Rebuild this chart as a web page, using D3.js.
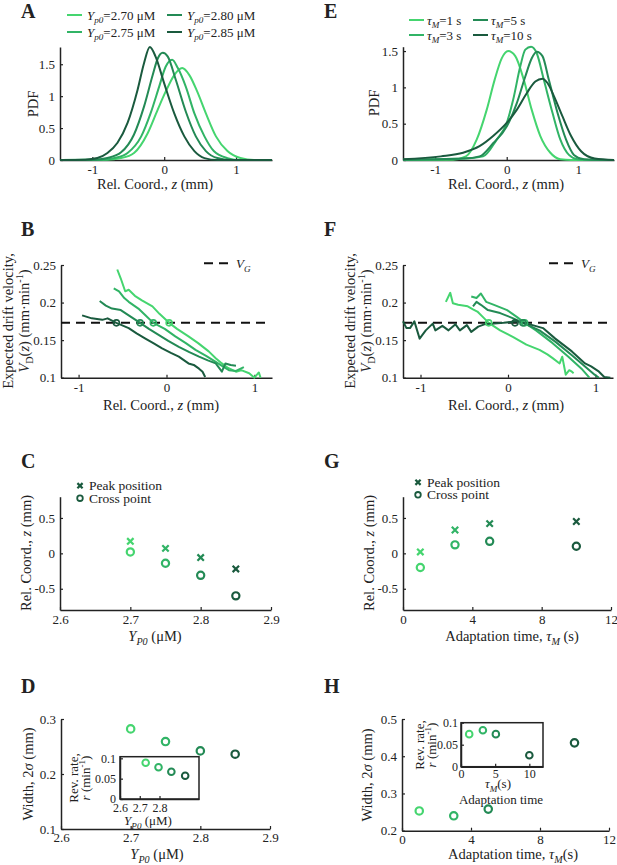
<!DOCTYPE html>
<html>
<head>
<meta charset="utf-8">
<script src="https://cdn.jsdelivr.net/npm/d3@7"></script>
<style>
body { margin: 0; background: #fff; }
#fig, #fig text { font-family: "Liberation Serif", "Times New Roman", Times, "DejaVu Serif", "Noto Serif", serif; }
#fig text { fill: #222; }
</style>
</head>
<body>
<svg id="fig" width="617" height="865" font-family="Liberation Serif, DejaVu Serif, serif"></svg>
<script>
// ---- data ----
const yp0 = [2.70, 2.75, 2.80, 2.85];
const yp0Labels = ["2.70", "2.75", "2.80", "2.85"];
const tauM = [1, 3, 5, 10];

// A: PDF vs z for each Yp0
const pdf270 = [[-1.45,0],[-0.8,0.005],[-0.6,0.03],[-0.42,0.11],[-0.23,0.42],[-0.09,0.79],[0.02,1.07],[0.14,1.33],[0.25,1.44],[0.35,1.33],[0.46,1.07],[0.58,0.73],[0.72,0.37],[0.88,0.14],[1.06,0.03],[1.25,0],[1.5,0]];
const pdf275 = [[-1.45,0],[-0.85,0.005],[-0.69,0.03],[-0.51,0.11],[-0.32,0.37],[-0.19,0.73],[-0.07,1.15],[0.02,1.46],[0.11,1.57],[0.19,1.44],[0.3,1.15],[0.42,0.73],[0.56,0.37],[0.69,0.14],[0.88,0.03],[1.06,0],[1.5,0]];
const pdf280 = [[-1.45,0],[-0.95,0.005],[-0.79,0.03],[-0.6,0.12],[-0.42,0.40],[-0.28,0.84],[-0.16,1.33],[-0.09,1.59],[-0.02,1.68],[0.05,1.62],[0.16,1.26],[0.3,0.76],[0.44,0.37],[0.58,0.14],[0.74,0.03],[0.93,0],[1.5,0]];
const pdf285 = [[-1.45,0],[-1.1,0.005],[-0.93,0.03],[-0.79,0.11],[-0.65,0.27],[-0.51,0.58],[-0.37,1.10],[-0.28,1.52],[-0.2,1.77],[-0.12,1.62],[0,1.20],[0.14,0.73],[0.28,0.37],[0.42,0.14],[0.56,0.03],[0.74,0],[1.5,0]];

// E: PDF vs z for each tauM
const pdfT1 = [[-1.45,0],[-0.75,0.005],[-0.57,0.05],[-0.42,0.28],[-0.28,0.69],[-0.17,1.1],[-0.07,1.40],[0.02,1.50],[0.12,1.43],[0.24,1.10],[0.35,0.69],[0.47,0.33],[0.61,0.10],[0.75,0.01],[0.9,0],[1.5,0]];
const pdfT3 = [[-1.45,0.005],[-0.6,0.02],[-0.33,0.05],[-0.14,0.28],[0,0.51],[0.09,0.83],[0.19,1.29],[0.26,1.52],[0.34,1.56],[0.42,1.47],[0.52,1.10],[0.64,0.65],[0.75,0.28],[0.87,0.07],[0.99,0.01],[1.2,0],[1.5,0]];
const pdfT5 = [[-1.45,0.005],[-0.6,0.02],[-0.38,0.05],[-0.19,0.23],[0,0.46],[0.14,0.78],[0.26,1.15],[0.35,1.40],[0.42,1.49],[0.5,1.43],[0.59,1.10],[0.71,0.65],[0.83,0.28],[0.94,0.07],[1.08,0.01],[1.3,0],[1.5,0]];
const pdfT10 = [[-1.45,0.01],[-0.92,0.05],[-0.61,0.10],[-0.38,0.19],[-0.19,0.33],[0,0.51],[0.14,0.69],[0.28,0.92],[0.4,1.08],[0.5,1.12],[0.57,1.06],[0.66,0.88],[0.78,0.60],[0.9,0.33],[1.04,0.12],[1.23,0.02],[1.5,0]];

// B: drift velocity vs z for each Yp0
const vd270 = [[-0.56,0.244],[-0.52,0.232],[-0.47,0.215],[-0.43,0.217],[-0.36,0.209],[-0.28,0.203],[-0.16,0.195],[-0.08,0.185],[0.03,0.173],[0.12,0.165],[0.25,0.155],[0.36,0.146],[0.48,0.135],[0.56,0.126],[0.63,0.119],[0.7,0.113],[0.79,0.108],[0.85,0.11],[0.94,0.106],[1.0,0.1],[1.05,0.107],[1.07,0.1]];
const vd275 = [[-0.6,0.219],[-0.54,0.215],[-0.48,0.206],[-0.43,0.201],[-0.32,0.192],[-0.24,0.183],[-0.15,0.173],[-0.02,0.165],[0.1,0.155],[0.22,0.146],[0.33,0.137],[0.45,0.129],[0.56,0.121],[0.64,0.115],[0.71,0.11],[0.79,0.109],[0.88,0.114]];
const vd280 = [[-0.76,0.202],[-0.69,0.196],[-0.62,0.192],[-0.52,0.19],[-0.43,0.183],[-0.3,0.173],[-0.2,0.165],[-0.09,0.157],[0.02,0.149],[0.14,0.141],[0.26,0.134],[0.37,0.128],[0.47,0.123],[0.56,0.119],[0.63,0.108],[0.67,0.119],[0.73,0.117],[0.79,0.116]];
const vd285 = [[-0.96,0.183],[-0.85,0.179],[-0.73,0.177],[-0.67,0.179],[-0.57,0.173],[-0.43,0.166],[-0.34,0.159],[-0.24,0.152],[-0.15,0.146],[-0.05,0.139],[0.05,0.133],[0.14,0.128],[0.25,0.119],[0.31,0.117],[0.37,0.112],[0.41,0.108],[0.44,0.101]];
const crossB = [0.03, -0.15, -0.30, -0.57];

// F: drift velocity vs z for each tauM
const vdT1 = [[-0.71,0.201],[-0.66,0.213],[-0.63,0.199],[-0.57,0.197],[-0.46,0.195],[-0.4,0.191],[-0.35,0.188],[-0.28,0.18],[-0.22,0.173],[-0.09,0.163],[0.06,0.154],[0.21,0.144],[0.36,0.137],[0.45,0.131],[0.51,0.126],[0.59,0.119],[0.62,0.128],[0.66,0.104],[0.7,0.11],[0.73,0.108],[0.75,0.106]];
const vdT3 = [[-0.42,0.208],[-0.36,0.206],[-0.31,0.212],[-0.25,0.201],[-0.16,0.197],[-0.01,0.19],[0.1,0.181],[0.19,0.173],[0.32,0.163],[0.51,0.146],[0.69,0.128],[0.84,0.112],[0.93,0.1]];
const vdT5 = [[-0.4,0.195],[-0.36,0.201],[-0.31,0.197],[-0.23,0.19],[-0.09,0.186],[0.06,0.179],[0.17,0.173],[0.36,0.163],[0.54,0.148],[0.73,0.13],[0.88,0.115],[0.99,0.104],[1.04,0.1]];
const vdT10 = [[-1.2,0.175],[-1.16,0.166],[-1.12,0.166],[-1.07,0.175],[-1.01,0.152],[-0.94,0.163],[-0.86,0.172],[-0.83,0.163],[-0.75,0.169],[-0.68,0.163],[-0.6,0.171],[-0.55,0.163],[-0.47,0.17],[-0.42,0.161],[-0.34,0.168],[-0.27,0.171],[-0.16,0.172],[-0.05,0.173],[0.1,0.175],[0.25,0.171],[0.4,0.166],[0.54,0.152],[0.73,0.135],[0.88,0.119],[0.95,0.115],[1.04,0.108],[1.1,0.101],[1.17,0.1]];
const crossF = [-0.22, 0.19, 0.17, 0.08];
const vG = 0.173;

// C, G: peak position and cross point
const peakC = [0.17, 0.07, -0.06, -0.22];
const crossC = [0.02, -0.14, -0.31, -0.60];
const peakG = [0.02, 0.33, 0.42, 0.45];
const crossG = [-0.20, 0.12, 0.17, 0.10];

// D, H: width and reversal rate (insets)
const widthD = [0.282, 0.259, 0.242, 0.236];
const revDx = [2.73, 2.795, 2.86, 2.93];
const revD = [0.089, 0.078, 0.067, 0.057];
const widthH = [0.253, 0.240, 0.258, 0.436];
const revHx = [1.2, 3.2, 5.1, 10];
const revH = [0.074, 0.083, 0.074, 0.026];

// ---- drawing ----
const svg = d3.select("#fig");
const greens = ["#45d56f", "#31b466", "#238a55", "#1a5a3e"];
const ink = "#222";
const serif = "Liberation Serif, Times New Roman, DejaVu Serif, serif";
const fmt = d => String(d);

function rich(t, parts, fs) {
  let shift = 0;
  parts.forEach(p => {
    const [s, k] = p;
    const sp = t.append("tspan").text(s);
    let want = 0;
    if (k === "sub" || k === "isub") want = fs * 0.3;
    if (k === "sup") want = -fs * 0.4;
    if (want !== shift) sp.attr("dy", want - shift);
    shift = want;
    if (k === "sub" || k === "isub" || k === "sup") sp.attr("font-size", fs * 0.7);
    if (k === "i" || k === "isub") sp.attr("font-style", "italic");
  });
  return t;
}

function label(x, y, parts, fs, opts = {}) {
  const t = svg.append("text").attr("font-size", fs).attr("font-family", serif)
    .attr("text-anchor", opts.anchor || "middle");
  if (opts.rot) t.attr("transform", `translate(${x},${y}) rotate(-90)`);
  else t.attr("x", x).attr("y", y);
  if (opts.bold) t.attr("font-weight", "bold");
  return rich(t, parts, fs);
}

function panel(o) {
  const x = d3.scaleLinear().domain(o.xd).range([o.l, o.r]);
  const y = d3.scaleLinear().domain(o.yd).range([o.b, o.t]);
  const g = svg.append("g");
  const fs = o.fs || 13;
  if (o.box) {
    g.append("rect").attr("x", o.l).attr("y", o.t)
      .attr("width", o.r - o.l).attr("height", o.b - o.t)
      .attr("fill", "#fff").attr("stroke", ink).attr("stroke-width", 1.5);
  }
  const ax = g.append("g").attr("transform", `translate(0,${o.b})`)
    .call(d3.axisBottom(x).tickValues(o.xt).tickFormat(fmt)
      .tickSizeInner(-3).tickSizeOuter(0).tickPadding(o.xp ?? 5));
  const ay = g.append("g").attr("transform", `translate(${o.l},0)`)
    .call(d3.axisLeft(y).tickValues(o.yt).tickFormat(fmt)
      .tickSizeInner(-3).tickSizeOuter(0).tickPadding(o.yp ?? 5));
  [ax, ay].forEach(a => {
    a.attr("font-family", serif).attr("font-size", fs);
    a.select(".domain").attr("stroke", ink).attr("stroke-width", 1.5);
    a.selectAll(".tick line").attr("stroke", ink).attr("stroke-width", 1.2);
    a.selectAll(".tick text").attr("fill", ink).attr("font-size", fs).attr("font-family", serif);
  });
  return { x, y, g };
}

function curve(p, pts, color, smooth) {
  const line = d3.line().x(d => p.x(d[0])).y(d => p.y(d[1]));
  if (smooth) line.curve(d3.curveMonotoneX);
  p.g.append("path").datum(pts).attr("d", line)
    .attr("fill", "none").attr("stroke", color).attr("stroke-width", 2)
    .attr("stroke-linejoin", "round");
}

function ring(p, cx, cy, color, r, w) {
  p.g.append("circle").attr("cx", cx).attr("cy", cy).attr("r", r)
    .attr("fill", "none").attr("stroke", color).attr("stroke-width", w);
}

function cross(g, cx, cy, color, s) {
  g.append("path")
    .attr("d", `M${cx - s},${cy - s}L${cx + s},${cy + s}M${cx - s},${cy + s}L${cx + s},${cy - s}`)
    .attr("stroke", color).attr("stroke-width", 2.2).attr("fill", "none");
}

const relCoord = [["Rel. Coord., "], ["z", "i"], [" (mm)"]];
const ypLabel = [["Y", "i"], ["P0", "isub"], [" (\u03bcM)"]];

// panel letters
[["A", 21, 18], ["B", 21, 236], ["C", 21, 468], ["D", 21, 693],
 ["E", 324, 18], ["F", 324, 236], ["G", 324, 468], ["H", 324, 693]].forEach(d =>
  label(d[1], d[2], [[d[0]]], 20, { anchor: "start", bold: true }));

// ---- A ----
const pA = panel({ l: 60, r: 272, t: 47, b: 160, xd: [-1.45, 1.5], yd: [0, 1.77],
  xt: [-1, 0, 1], yt: [0, 0.5, 1, 1.5] });
[pdf270, pdf275, pdf280, pdf285].forEach((c, i) => curve(pA, c, greens[i], true));
label(38, 104, [["PDF"]], 14.5, { rot: true });
label(155, 189, relCoord, 14.5);
yp0Labels.forEach((s, i) => {
  const lx = i < 2 ? 67 : 167, ly = i % 2 === 0 ? 15 : 32;
  svg.append("line").attr("x1", lx).attr("x2", lx + 15).attr("y1", ly).attr("y2", ly)
    .attr("stroke", greens[i]).attr("stroke-width", 2);
  label(lx + 20, ly + 4.5, [["Y", "i"], ["p0", "isub"], ["=" + s + " \u03bcM"]], 13, { anchor: "start" });
});

// ---- E ----
const pE = panel({ l: 403, r: 614, t: 46.7, b: 160, xd: [-1.45, 1.5], yd: [0, 1.56],
  xt: [-1, 0, 1], yt: [0, 0.5, 1, 1.5] });
[pdfT1, pdfT3, pdfT5, pdfT10].forEach((c, i) => curve(pE, c, greens[i], true));
label(379, 103, [["PDF"]], 14.5, { rot: true });
label(506, 189, relCoord, 14.5);
tauM.forEach((t, i) => {
  const lx = i < 2 ? 409 : 473, ly = i % 2 === 0 ? 20 : 35;
  svg.append("line").attr("x1", lx).attr("x2", lx + 15).attr("y1", ly).attr("y2", ly)
    .attr("stroke", greens[i]).attr("stroke-width", 2);
  label(lx + 18, ly + 4.5, [["\u03c4", "i"], ["M", "isub"], ["=" + t + " s"]], 13, { anchor: "start" });
});

// ---- B / F ----
function driftPanel(l, r, curves, crosses, legX, dashEnd) {
  const p = panel({ l: l, r: r, t: 265, b: 377.7, xd: [-1.2, 1.2], yd: [0.1, 0.25],
    xt: [-1, 0, 1], yt: [0.1, 0.15, 0.2, 0.25] });
  p.g.append("line").attr("x1", p.x(-1.2)).attr("x2", p.x(dashEnd))
    .attr("y1", p.y(vG)).attr("y2", p.y(vG))
    .attr("stroke", "#111").attr("stroke-width", 2).attr("stroke-dasharray", "9,6");
  curves.forEach((c, i) => curve(p, c, greens[i], false));
  crosses.forEach((c, i) => ring(p, p.x(c), p.y(vG), greens[i], 3, 1.6));
  svg.append("line").attr("x1", legX).attr("x2", legX + 26).attr("y1", 263.3).attr("y2", 263.3)
    .attr("stroke", "#111").attr("stroke-width", 2).attr("stroke-dasharray", "9,6");
  label(legX + 32, 268, [["V", "i"], ["G", "isub"]], 13, { anchor: "start" });
  label(l - 48, 321, [["Expected drift velocity,"]], 14.5, { rot: true });
  label(l - 32, 321, [["V", "i"], ["D", "sub"], ["("], ["z", "i"], [") (mm\u00b7min"], ["-1", "sup"], [")"]], 14.5, { rot: true });
  return p;
}
driftPanel(61, 272, [vd270, vd275, vd280, vd285], crossB, 204, 1.14);
label(161, 410, relCoord, 14.5);
driftPanel(403, 613, [vdT1, vdT3, vdT5, vdT10], crossF, 549, 1.2);
label(506, 410, relCoord, 14.5);

// ---- C / G ----
function peakPanel(l, r, xd, xt, xs, peaks, crosses, legX, legY) {
  const p = panel({ l: l, r: r, t: 496.7, b: 610, xd: xd, yd: [-0.8, 0.8],
    xt: xt, yt: [-0.5, 0, 0.5] });
  xs.forEach((v, i) => {
    cross(p.g, p.x(v), p.y(peaks[i]), greens[i], 3.2);
    ring(p, p.x(v), p.y(crosses[i]), greens[i], 3.6, 2.2);
  });
  cross(svg, legX, legY, greens[3], 2.6);
  label(legX + 9, legY + 4.5, [["Peak position"]], 13.5, { anchor: "start" });
  svg.append("circle").attr("cx", legX).attr("cy", legY + 12.5).attr("r", 2.8)
    .attr("fill", "none").attr("stroke", greens[3]).attr("stroke-width", 1.8);
  label(legX + 9, legY + 17, [["Cross point"]], 13.5, { anchor: "start" });
  label(l - 29, 553, relCoord, 14.5, { rot: true });
  return p;
}
peakPanel(60, 271, [2.6, 2.9], [2.6, 2.7, 2.8, 2.9], yp0, peakC, crossC, 80, 485.7);
label(155, 641, ypLabel, 14.5);
peakPanel(403, 611, [0, 12], [0, 4, 8, 12], tauM, peakG, crossG, 418, 482.3);
label(512, 641, [["Adaptation time, "], ["\u03c4", "i"], ["M", "isub"], [" (s)"]], 14.5);

// ---- D ----
const pD = panel({ l: 61, r: 270, t: 719, b: 829, xd: [2.6, 2.9], yd: [0.1, 0.3],
  xt: [2.6, 2.7, 2.8, 2.9], yt: [0.1, 0.2, 0.3], xp: 4 });
yp0.forEach((v, i) => ring(pD, pD.x(v), pD.y(widthD[i]), greens[i], 3.7, 2.2));
label(33, 774, [["Width, 2"], ["\u03c3", "i"], [" (mm)"]], 14.5, { rot: true });
label(157, 859, ypLabel, 14.5);
const iD = panel({ l: 120, r: 199, t: 756.7, b: 799, xd: [2.6, 3.0], yd: [0, 0.104],
  xt: [2.6, 2.7, 2.8], yt: [0, 0.05, 0.1], box: true, fs: 12, xp: 4, yp: 4 });
revDx.forEach((v, i) => ring(iD, iD.x(v), iD.y(revD[i]), greens[i], 3.3, 2));
label(78, 778, [["Rev. rate,"]], 13, { rot: true });
label(90, 778, [["r", "i"], [" (min"], ["-1", "sup"], [")"]], 13, { rot: true });
label(148, 825, ypLabel, 13);

// ---- H ----
const pH = panel({ l: 402, r: 609, t: 719, b: 830.7, xd: [0, 12], yd: [0.2, 0.5],
  xt: [0, 4, 8, 12], yt: [0.2, 0.3, 0.4, 0.5], xp: 4 });
tauM.forEach((v, i) => ring(pH, pH.x(v), pH.y(widthH[i]), greens[i], 3.7, 2.2));
label(372, 775, [["Width, 2"], ["\u03c3", "i"], [" (mm)"]], 14.5, { rot: true });
label(513, 859, [["Adaptation time, "], ["\u03c4", "i"], ["M", "isub"], ["(s)"]], 14.5);
const iH = panel({ l: 461, r: 543, t: 722.7, b: 766.7, xd: [0, 12], yd: [0, 0.1],
  xt: [0, 5, 10], yt: [0, 0.05, 0.1], box: true, fs: 12, xp: 3, yp: 3 });
revHx.forEach((v, i) => ring(iH, iH.x(v), iH.y(revH[i]), greens[i], 3.3, 2));
label(424, 745, [["Rev. rate,"]], 13, { rot: true });
label(436, 745, [["r", "i"], [" (min"], ["-1", "sup"], [")"]], 13, { rot: true });
label(498, 788, [["\u03c4", "i"], ["M", "isub"], ["(s)"]], 13);
label(501, 804, [["Adaptation time"]], 13);
</script>
</body>
</html>
